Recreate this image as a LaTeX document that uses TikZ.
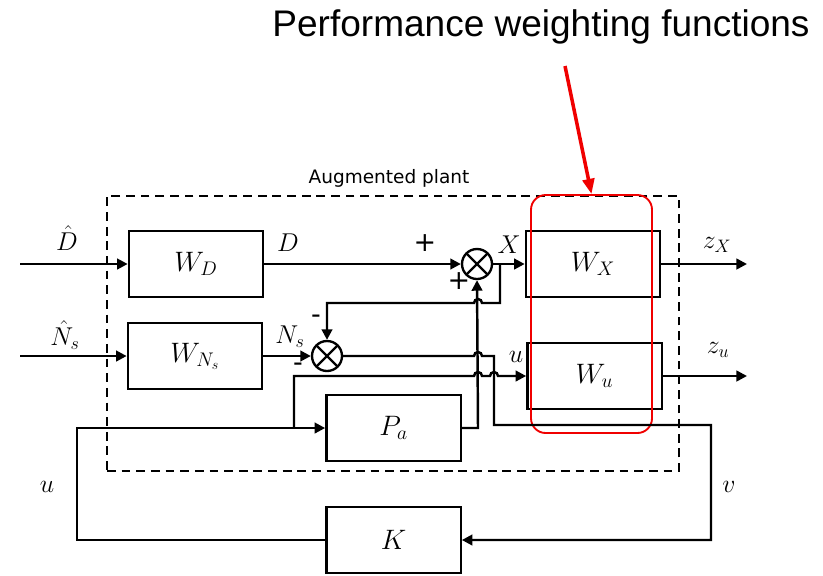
\RequirePackage{fix-cm}
\documentclass[tikz,border=0pt]{standalone}
\usepackage{fontspec}
\usepackage{tikz}
\usetikzlibrary{positioning, arrows.meta, calc}
\newfontfamily\titlefont{Liberation Sans}
\newfontfamily\plantfont{DejaVu Sans}
\definecolor{markred}{RGB}{240,0,0}

\begin{document}
\begin{tikzpicture}[x=0.03cm, y=-0.03cm,
  blk/.style={rectangle, draw, line width=2pt, fill=white,
              minimum width=4.03cm, minimum height=1.99cm,
              inner sep=0pt, font=\fontsize{24}{28}\selectfont},
  sumnode/.style={circle, draw, line width=2pt, minimum size=0.9cm,
                  inner sep=0pt,
                  path picture={\draw[line width=2pt]
                    (path picture bounding box.north west) --
                    (path picture bounding box.south east)
                    (path picture bounding box.north east) --
                    (path picture bounding box.south west);}},
  lbl/.style={inner sep=0pt, font=\fontsize{22}{26}\selectfont},
  sgn/.style={inner sep=0pt, font=\plantfont\fontsize{23}{26}\selectfont},
  sig/.style={line width=2.1pt},
  arr/.style={sig, -{Triangle[length=9pt, width=9pt]}},
  plantbox/.style={rectangle, draw, line width=1.8pt,
                   dash pattern=on 7.5pt off 5pt},
  groupbox/.style={rectangle, draw=markred, line width=1.6pt,
                   rounded corners=12.5pt},
  pointer/.style={draw=markred, line width=3pt,
                  -{Triangle[length=13pt, width=10pt]}}
]
\useasboundingbox (0,0) rectangle (823,575);

% === Augmented plant frame ===================================================
\node[plantbox, minimum width=17.16cm, minimum height=8.25cm] (plant) at (393,333.5) {};
\node[anchor=base, font=\plantfont\fontsize{15.8}{18}\selectfont] (plantlbl) at (389,183) {Augmented plant};

% === Blocks ==================================================================
\node[blk] (WD) at (196,264)   {$W_D$};
\node[blk] (WN) at (195,356)   {$W_{N_s}$};
\node[blk] (WX) at (593,264)   {$W_X$};
\node[blk] (Wu) at (594.5,376) {$W_u$};
\node[blk] (Pa) at (393.5,428) {$P_a$};
\node[blk] (Kc) at (393.5,540) {$K$};

\node[sumnode] (S1) at (477,264) {};
\node[sumnode] (S2) at (327,356) {};

% === Weighting functions highlight ===========================================
\node[groupbox, minimum width=3.63cm, minimum height=7.14cm] (wgroup) at (591.5,314) {};
\node[anchor=base, font=\titlefont\fontsize{31.6}{36}\selectfont] (title) at (541,36)
  {Performance weighting functions};
\coordinate (ptr) at (565,66);
\draw[pointer] (ptr) -- (wgroup.north);

% === Free ends and branch points =============================================
\coordinate (Dhin) at (20,264);
\coordinate (Nhin) at (20,356);
\coordinate (zXout) at (747,264);
\coordinate (zuout) at (747,376);
\coordinate (xb) at (500,264);
\coordinate (ub) at (294,428);

% === Signals =================================================================
\draw[arr] (Dhin) -- (WD.west);
\draw[arr] (Nhin) -- (WN.west);
\draw[arr] (WD.east) -- (S1.west);
\draw[arr] (WN.east) -- (S2.west);
\draw[arr] (S1.east) -- (WX.west);
\draw[arr] (WX.east) -- (zXout);
\draw[arr] (Wu.east) -- (zuout);

% X fed back to the second summing junction
\draw[arr] (xb) -- (500,303) -- (482,303)
  arc[start angle=0, end angle=180, radius=0.12cm] -- (327,303) -- (S2.north);

% plant output into the first summing junction
\draw[arr] (Pa.east) -- (478,428) -- (S1.south);

% measured output v back to the controller
\draw[arr] (S2.east) -- (474,356)
  arc[start angle=180, end angle=0, radius=0.12cm] -- (494,356) -- (494,425)
  -- (711,425) -- (711,540) -- (Kc.east);

% control signal u
\draw[arr] (Kc.west) -- (77,540) -- (77,428) -- (Pa.west);
\draw[arr] (ub) -- (294,376) -- (474,376)
  arc[start angle=180, end angle=0, radius=0.12cm] -- (490,376)
  arc[start angle=180, end angle=0, radius=0.12cm] -- (Wu.west);

% === Labels ==================================================================
\node[lbl] (lDh) at (67,238)  {$\hat{D}$};
\node[lbl] (lNh) at (65,335)  {$\hat{N}_s$};
\node[lbl] (lD)  at (288,243) {$D$};
\node[lbl] (lNs) at (290,337) {$N_s$};
\node[lbl] (lX)  at (509,245) {$X$};
\node[lbl] (lzX) at (717,245) {$z_X$};
\node[lbl] (lzu) at (718,350) {$z_u$};
\node[lbl] (lu1) at (516,357) {$u$};
\node[lbl] (lu2) at (47,487)  {$u$};
\node[lbl] (lv)  at (729,487) {$v$};

\node[sgn] (p1) at (425,243) {+};
\node[sgn] (p2) at (459,281) {+};
\node[sgn] (m1) at (316,319) {-};
\node[sgn] (m2) at (298,367) {-};

\end{tikzpicture}
\end{document}
